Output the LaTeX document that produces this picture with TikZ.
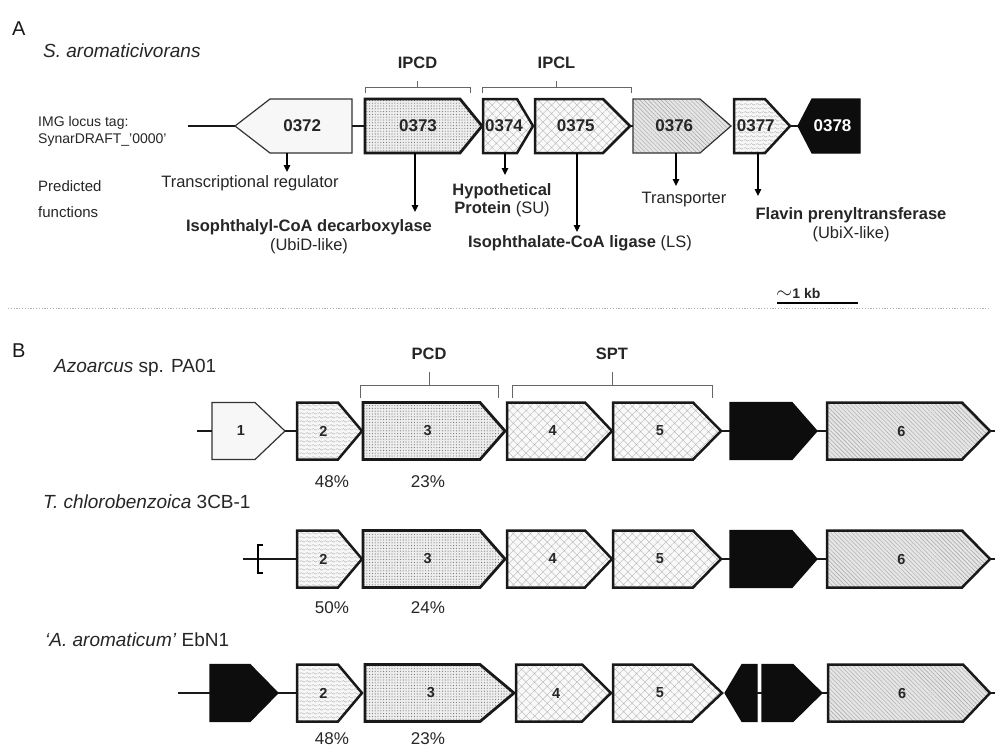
\documentclass[tikz,border=0pt]{standalone}
\usepackage{fontspec}
\setmainfont{Liberation Sans}
\usepackage{tikz}
\usetikzlibrary{arrows.meta,patterns,patterns.meta,positioning}

\definecolor{bracketgray}{rgb}{0.4, 0.4, 0.4}
\definecolor{patgray}{rgb}{0.45, 0.45, 0.45}

\tikzdeclarepattern{
  name=Waves,
  bottom left={(0pt,0pt)},
  top right={(6pt,4pt)},
  tile size={(6pt,4pt)},
  code={
    \draw[line width=0.5pt] (0pt,2pt) sin (1.5pt,3pt) cos (3pt,2pt) sin (4.5pt,1pt) cos (6pt,2pt);
  }
}

% gene pointing right: name, left, head start, tip, y, style, text
\newcommand{\fwdgene}[7]{%
  \draw[#6] (#2,#5-\hh) -- (#3,#5-\hh) -- (#4,#5) -- (#3,#5+\hh) -- (#2,#5+\hh) -- cycle;
  \coordinate (#1-w) at (#2,#5);
  \coordinate (#1-e) at (#4,#5);
  \coordinate (#1-s) at ({(#2+#3)/2},#5+\hh);
  \node[genetext] (#1) at ({(#2+#3)/2+(#4-#3)/4},#5) {#7};
}
% gene pointing left: name, tip, head end, right, y, style, text
\newcommand{\revgene}[7]{%
  \draw[#6] (#2,#5) -- (#3,#5-\hh) -- (#4,#5-\hh) -- (#4,#5+\hh) -- (#3,#5+\hh) -- cycle;
  \coordinate (#1-w) at (#2,#5);
  \coordinate (#1-e) at (#4,#5);
  \coordinate (#1-s) at ({(#3+#4)/2},#5+\hh);
  \node[genetext] (#1) at ({(#3+#4)/2-(#3-#2)/4},#5) {#7};
}

\tikzset{
  dnaline/.style={line width=1.6pt, draw=black!90},
  funarrow/.style={line width=1.4pt, -{Triangle[length=7pt,width=6.5pt]}},
  bracketline/.style={line width=0.9pt, draw=bracketgray},
  sepline/.style={line width=0.8pt, draw=gray!60, dash pattern=on 1.2pt off 1.6pt},
  genethin/.style={draw=black!80, line width=1.2pt, fill=gray!6},
  genedots/.style={preaction={fill=gray!14}, pattern={Dots[distance=2.8pt,radius=0.55pt]}, pattern color=patgray, draw=black!90, line width=2.8pt},
  genehatch/.style={preaction={fill=gray!5}, pattern={Hatch[distance=6pt,angle=45,line width=0.35pt]}, pattern color=gray!60, draw=black!90, line width=2.5pt},
  genelines/.style={preaction={fill=gray!20}, pattern={Lines[distance=3pt,angle=-45,line width=0.4pt]}, pattern color=gray!70, draw=black!80, line width=1.2pt},
  genelinesB/.style={genelines, draw=black!90, line width=2.5pt},
  genewave/.style={preaction={fill=gray!6}, pattern=Waves, pattern color=gray!65, draw=black!90, line width=2.5pt},
  geneblack/.style={fill=black!95, draw=black!95, line width=1.2pt},
  genetext/.style={inner sep=0, font=\bfseries\fontsize{17}{20}\selectfont, text=black!85},
  tagtext/.style={inner sep=0, anchor=base west, font=\fontsize{20}{24}\selectfont, text=black!90},
  speciestext/.style={inner sep=0, anchor=base west, font=\fontsize{19}{23}\selectfont, text=black!85},
  smalltext/.style={inner sep=0, anchor=north west, align=left, font=\fontsize{14}{17}\selectfont, text=black!85},
  funtext/.style={inner sep=0, anchor=north, align=center, font=\fontsize{16.5}{19}\selectfont, text=black!85},
  grouplabel/.style={inner sep=0, font=\bfseries\fontsize{16.5}{19}\selectfont, text=black!85},
  pcttext/.style={inner sep=0, anchor=base, font=\fontsize{17}{20}\selectfont, text=black!85}
}

\begin{document}
\begin{tikzpicture}[x=1pt, y=-1pt]
    \fill[white] (0,0) rectangle (995,750);
    \useasboundingbox (0,0) rectangle (995,750);

    % ---------- A ----------
    \node[tagtext] (tagA) at (12,35) {A};
    \node[speciestext] (spA) at (43,57) {\itshape S. aromaticivorans};
    \node[smalltext] (imgtag) at (38,116) {IMG locus tag:\\SynarDRAFT\_'0000'};
    \node[smalltext, font=\fontsize{15}{26}\selectfont] (predfun) at (38,180) {Predicted\\functions};

    \def\hh{27}
    \revgene{g0372}{235}{270}{352}{126}{genethin}{0372}
    \foreach \nm/\xa/\xb/\xc/\sty/\txt in {
        g0373/365/460/482/genedots/0373,
        g0374/483/517/533/genehatch/0374,
        g0375/535/603/630/genehatch/0375,
        g0376/633/700/731/genelines/0376,
        g0377/734/765/790/genewave/0377}
    {\fwdgene{\nm}{\xa}{\xb}{\xc}{126}{\sty}{\txt}}
    \revgene{g0378}{798}{812}{860}{126}{geneblack}{\textcolor{white}{0378}}

    \coordinate (startA) at (188,126);
    \draw[dnaline] (startA) -- (g0372-w);
    \draw[dnaline] (g0372-e) -- (g0373-w);
    \draw[dnaline] (g0375-e) -- (g0376-w);
    \draw[dnaline] (g0377-e) -- (g0378-w);

    \foreach \nm/\xa/\xb in {IPCD/365/470, IPCL/482/631} {
        \draw[bracketline] (\xa,93) -- (\xa,87) -- (\xb,87) -- (\xb,93)
            ({(\xa+\xb)/2},87) -- ++(0,-6) coordinate (br-\nm);
        \node[grouplabel, above=12pt of br-\nm, anchor=south] (lbl-\nm) {\nm};
    }

    \node[funtext] (t0372) at (250,175) {Transcriptional regulator};
    \node[funtext] (t0373) at (309,219) {\textbf{Isophthalyl-CoA decarboxylase}\\(UbiD-like)};
    \node[funtext, font=\fontsize{16.5}{18}\selectfont] (t0374) at (502,183) {\textbf{Hypothetical}\\\textbf{Protein} (SU)};
    \node[funtext] (t0375) at (580,235) {\textbf{Isophthalate-CoA ligase} (LS)};
    \node[funtext] (t0376) at (684,192) {Transporter};
    \node[funtext] (t0377) at (851,207) {\textbf{Flavin prenyltransferase}\\(UbiX-like)};

    \coordinate (a0372) at (287,172);
    \coordinate (a0373) at (415,212);
    \coordinate (a0374) at (505,175);
    \coordinate (a0375) at (577,232);
    \coordinate (a0376) at (676,186);
    \coordinate (a0377) at (758,196);
    \foreach \g in {0372,0373,0374,0375,0376,0377}
        \draw[funarrow] (a\g |- g\g-s) -- (a\g);

    % scale bar
    \node[inner sep=0, anchor=base west, font=\bfseries\fontsize{14}{17}\selectfont, text=black!85] (kb) at (776,298) {{\fontsize{20}{20}\selectfont$\sim$}1 kb};
    \coordinate (kb-l) at (777,303);
    \coordinate (kb-r) at (858,303);
    \draw[line width=2pt] (kb-l) -- (kb-r);

    \coordinate (sep-l) at (8,308);
    \coordinate (sep-r) at (990,308);
    \draw[sepline] (sep-l) -- (sep-r);

    % ---------- B ----------
    \node[tagtext] (tagB) at (12,357) {B};

    \begin{scope}[genetext/.append style={font=\bfseries\fontsize{14.5}{17}\selectfont}]
    \def\hh{28.5}

    % Azoarcus
    \node[speciestext] (spB1) at (54,372) {\textit{Azoarcus} sp. PA01};
    \foreach \nm/\xa/\xb/\xc/\sty/\txt in {
        a1/212/255/285/genethin/1,
        a2/297/338/362/genewave/2,
        a3/363/480/505/genedots/3,
        a4/507/585/612/genehatch/4,
        a5/613/693/721/genehatch/5,
        ak/730/792/817/geneblack/{},
        a6/827/962/990/genelinesB/6}
    {\fwdgene{\nm}{\xa}{\xb}{\xc}{431}{\sty}{\txt}}
    \coordinate (startB1) at (197,431);
    \coordinate (endB1) at (995,431);
    \draw[dnaline] (startB1) -- (a1-w);
    \draw[dnaline] (a1-e) -- (a2-w);
    \draw[dnaline] (a5-e) -- (ak-w);
    \draw[dnaline] (ak-e) -- (a6-w);
    \draw[dnaline] (a6-e) -- (endB1);

    \foreach \nm/\xa/\xb in {PCD/360/498, SPT/512/712} {
        \draw[bracketline] (\xa,398) -- (\xa,385) -- (\xb,385) -- (\xb,398)
            ({(\xa+\xb)/2},385) -- ++(0,-13) coordinate (br-\nm);
        \node[grouplabel, above=12pt of br-\nm, anchor=south] (lbl-\nm) {\nm};
    }
    \node[pcttext] (pa2) at (332,487) {48\%};
    \node[pcttext] (pa3) at (428,487) {23\%};

    % Thauera
    \node[speciestext] (spB2) at (43,508) {\textit{T. chlorobenzoica} 3CB-1};
    \foreach \nm/\xa/\xb/\xc/\sty/\txt in {
        b2/297/338/362/genewave/2,
        b3/363/480/505/genedots/3,
        b4/507/585/612/genehatch/4,
        b5/613/693/721/genehatch/5,
        bk/730/792/817/geneblack/{},
        b6/827/962/990/genelinesB/6}
    {\fwdgene{\nm}{\xa}{\xb}{\xc}{559}{\sty}{\txt}}
    \coordinate (startB2) at (243,559);
    \coordinate (endB2) at (995,559);
    \draw[dnaline] (startB2) -- (b2-w);
    \draw[dnaline] (b5-e) -- (bk-w);
    \draw[dnaline] (bk-e) -- (b6-w);
    \draw[dnaline] (b6-e) -- (endB2);
    \draw[line width=1.5pt] (263,545) -- (258,545) -- (258,573) -- (263,573);
    \node[pcttext] (pb2) at (332,613) {50\%};
    \node[pcttext] (pb3) at (428,613) {24\%};

    % Aromatoleum
    \node[speciestext] (spB3) at (45,646) {\textit{‘A. aromaticum’} EbN1};
    \foreach \nm/\xa/\xb/\xc/\sty/\txt in {
        ck1/210/250/278/geneblack/{},
        c2/297/338/362/genewave/2,
        c3/365/480/514/genedots/3,
        c4/516/582/611/genehatch/4,
        c5/613/692/722/genehatch/5,
        ck3/762/793/822/geneblack/{},
        c6/828/963/990/genelinesB/6}
    {\fwdgene{\nm}{\xa}{\xb}{\xc}{693}{\sty}{\txt}}
    \revgene{ck2}{725}{742}{757}{693}{geneblack}{}
    \coordinate (startB3) at (178,693);
    \coordinate (endB3) at (995,693);
    \draw[dnaline] (startB3) -- (ck1-w);
    \draw[dnaline] (ck1-e) -- (c2-w);
    \draw[dnaline] (ck2-e) -- (ck3-w);
    \draw[dnaline] (ck3-e) -- (c6-w);
    \draw[dnaline] (c6-e) -- (endB3);
    \node[pcttext] (pc2) at (332,744) {48\%};
    \node[pcttext] (pc3) at (428,744) {23\%};
    \end{scope}

\end{tikzpicture}
\end{document}
